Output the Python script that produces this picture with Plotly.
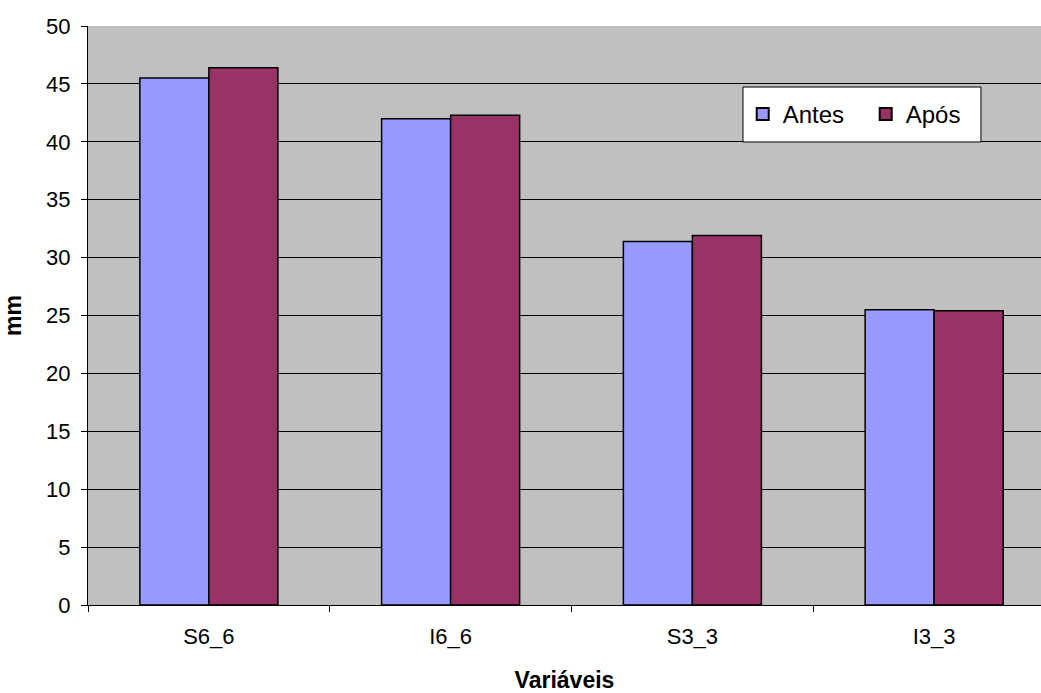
import plotly.graph_objects as go

categories = ["S6_6", "I6_6", "S3_3", "I3_3"]
antes = [45.5, 42.0, 31.4, 25.5]
apos = [46.4, 42.3, 31.9, 25.4]
y_ticks = [0, 5, 10, 15, 20, 25, 30, 35, 40, 45, 50]

font_family = "Liberation Sans, Arial, sans-serif"

fig = go.Figure()
fig.add_trace(go.Bar(
    x=categories, y=antes, name="Antes",
    marker=dict(color="#9999FF", line=dict(color="black", width=1.5)),
))
fig.add_trace(go.Bar(
    x=categories, y=apos, name="Após",
    marker=dict(color="#993366", line=dict(color="black", width=1.5)),
))

# legend frame, drawn as a paper-positioned box behind the legend entries
fig.add_shape(
    type="rect", xref="paper", yref="paper",
    x0=0.6873, x1=0.937, y0=0.7997, y1=0.8946,
    fillcolor="white", line=dict(color="black", width=1),
    layer="above",
)

fig.update_layout(
    width=1041, height=693,
    margin=dict(l=88, r=0, t=26, b=88),
    paper_bgcolor="white",
    plot_bgcolor="#C0C0C0",
    barmode="group",
    bargap=0.429,
    bargroupgap=0,
    font=dict(family=font_family, size=22, color="black"),
    showlegend=True,
    legend=dict(
        orientation="h",
        x=0.687, y=0.886, xanchor="left", yanchor="top",
        bgcolor="rgba(0,0,0,0)", borderwidth=0,
        font=dict(size=24),
        itemsizing="constant",
        entrywidth=78,
    ),
)

fig.update_xaxes(
    title=dict(text="<b>Variáveis</b>", font=dict(size=23), standoff=28),
    range=[-0.5, 3.442],
    showline=True, linecolor="black", linewidth=1,
    ticks="outside", ticklen=6, tickcolor="black",
    tickson="boundaries",
    ticklabelstandoff=12,
    showgrid=False,
)
fig.update_yaxes(
    title=dict(text="<b>mm</b>", font=dict(size=23), standoff=20),
    range=[0, 50],
    tickvals=y_ticks,
    showline=True, linecolor="black", linewidth=1,
    ticks="outside", ticklen=6, tickcolor="black",
    ticklabelstandoff=6,
    showgrid=True, gridcolor="black", gridwidth=1,
    zeroline=False,
)

fig.write_html("out.html")
